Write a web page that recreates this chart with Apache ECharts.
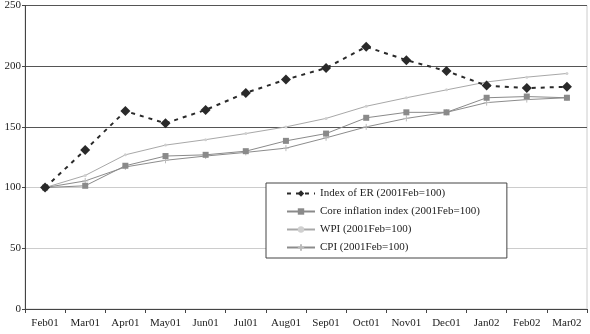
<!DOCTYPE html>
<html>
<head>
<meta charset="utf-8">
<script src="https://cdn.jsdelivr.net/npm/echarts@6/dist/echarts.min.js"></script>
<style>
  html, body { margin: 0; padding: 0; background: #fff; }
  #main { width: 590px; height: 334px; }
</style>
</head>
<body>
<div id="main"></div>
<script>
// 月份
var months = ['Feb01', 'Mar01', 'Apr01', 'May01', 'Jun01', 'Jul01', 'Aug01', 'Sep01', 'Oct01', 'Nov01', 'Dec01', 'Jan02', 'Feb02', 'Mar02'];
// 汇率指数
var erIndex = [100, 131, 163, 153, 164, 178, 189, 198.5, 216, 205, 196, 184, 182, 183];
// 核心通胀指数
var coreIndex = [100, 101.5, 118, 126, 127, 130, 138.5, 144.5, 157.5, 162, 162, 174, 175, 174];
// WPI
var wpiIndex = [100, 110, 127, 135, 139.5, 144.5, 150, 157, 167, 174, 180.5, 187, 191, 194];
// CPI
var cpiIndex = [100, 105.5, 117, 122.5, 126, 129, 132.5, 141, 150, 157, 162, 170, 172.5, 174];

var serif = 'Liberation Serif';

var chart = echarts.init(document.getElementById('main'));
var option = {
    backgroundColor: '#fff',
    animation: false,
    textStyle: { fontFamily: serif },
    grid: { left: 25, right: 3, top: 5, bottom: 25, show: true, borderColor: '#ccc', borderWidth: 1 },
    legend: {
        orient: 'vertical',
        left: 266,
        top: 183,
        padding: [5, 27, 5, 20],
        itemGap: 7,
        itemWidth: 28,
        itemHeight: 8,
        borderColor: '#444',
        borderWidth: 1,
        backgroundColor: '#fff',
        textStyle: { fontFamily: serif, fontSize: 11, color: '#222' },
        data: ['Index of ER (2001Feb=100)', 'Core inflation index (2001Feb=100)', 'WPI (2001Feb=100)', 'CPI (2001Feb=100)']
    },
    xAxis: {
        type: 'category',
        data: months,
        boundaryGap: true,
        axisLine: { lineStyle: { color: '#444', width: 1 } },
        axisTick: { show: true, length: 4, lineStyle: { color: '#444' } },
        axisLabel: { fontFamily: serif, fontSize: 11, color: '#222', margin: 9, interval: 0 },
        splitLine: { show: false }
    },
    yAxis: {
        type: 'value',
        min: 0,
        max: 250,
        interval: 50,
        axisLine: { show: true, lineStyle: { color: '#444', width: 1 } },
        axisTick: { show: true, length: 3, lineStyle: { color: '#444' } },
        axisLabel: { fontFamily: serif, fontSize: 11, color: '#222', margin: 4 },
        splitLine: { show: true, lineStyle: { color: ['#444', '#ccc', '#ccc', '#555', '#555', '#555'], width: 1 } }
    },
    series: [{
        name: 'Index of ER (2001Feb=100)',
        type: 'line',
        data: erIndex,
        symbol: 'diamond',
        symbolSize: 10,
        z: 5,
        itemStyle: { color: '#2a2a2a' },
        lineStyle: { color: '#2a2a2a', width: 2, type: [4, 5] }
    }, {
        name: 'Core inflation index (2001Feb=100)',
        type: 'line',
        data: coreIndex,
        symbol: 'rect',
        symbolSize: 6,
        z: 4,
        itemStyle: { color: '#8a8a8a' },
        lineStyle: { color: '#8a8a8a', width: 1 }
    }, {
        name: 'WPI (2001Feb=100)',
        type: 'line',
        data: wpiIndex,
        symbol: 'circle',
        symbolSize: 3,
        z: 3,
        itemStyle: { color: '#d0d0d0' },
        lineStyle: { color: '#a8a8a8', width: 1 }
    }, {
        name: 'CPI (2001Feb=100)',
        type: 'line',
        data: cpiIndex,
        symbol: 'path://M0,5L10,5M5,0L5,10',
        symbolSize: 6,
        z: 3,
        itemStyle: { color: '#bbb', borderColor: '#bbb', borderWidth: 1 },
        lineStyle: { color: '#8c8c8c', width: 1 }
    }]
};
chart.setOption(option);
</script>
</body>
</html>
